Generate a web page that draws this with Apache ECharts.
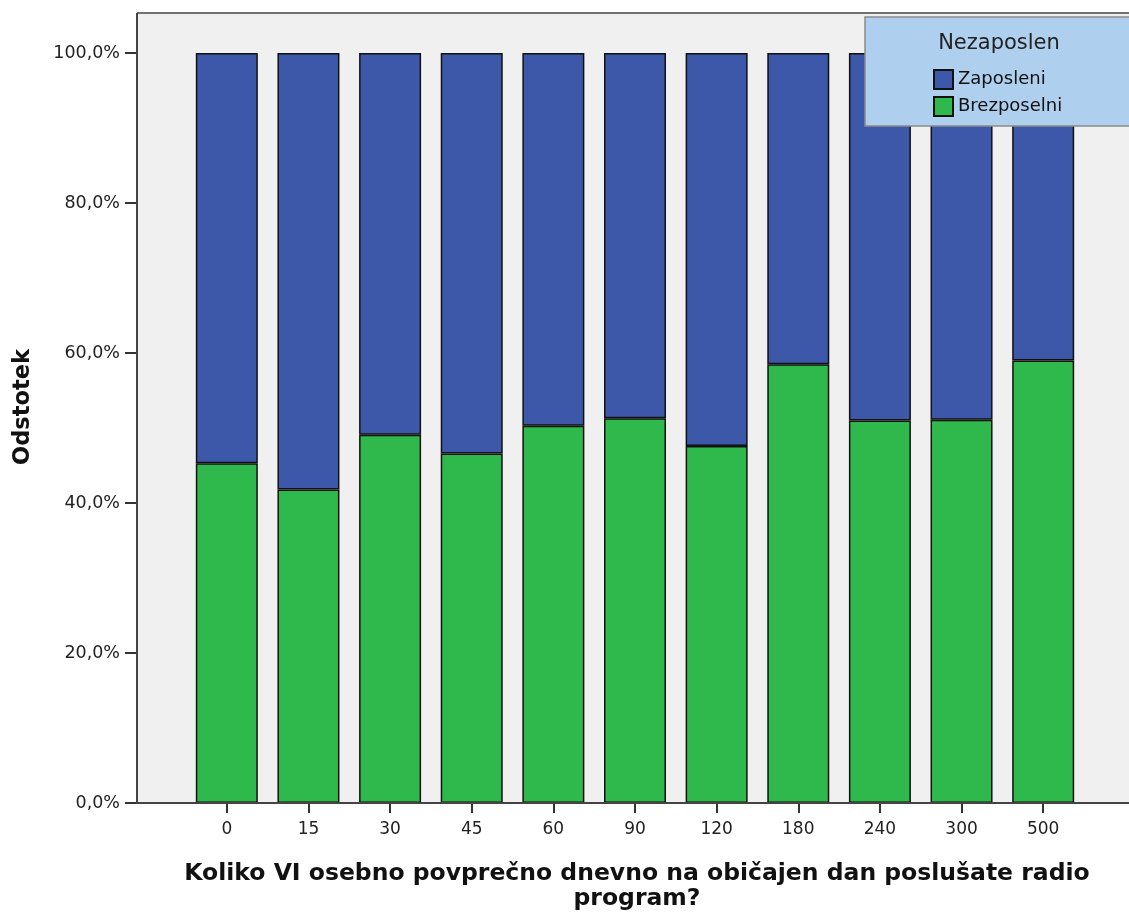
<!DOCTYPE html>
<html>
<head>
<meta charset="utf-8">
<script src="https://cdn.jsdelivr.net/npm/echarts@6/dist/echarts.min.js"></script>
<style>html,body{margin:0;padding:0;background:#fff}#c{width:1129px;height:916px}</style>
</head>
<body>
<div id="c"></div>
<script>
const categories = ['0','15','30','45','60','90','120','180','240','300','500'];
const brezposelni = [45.3, 41.8, 49.1, 46.6, 50.3, 51.3, 47.6, 58.5, 51.0, 51.1, 59.0];
const zaposleni = [54.7, 58.2, 50.9, 53.4, 49.7, 48.7, 52.4, 41.5, 49.0, 48.9, 41.0];
const yTicks = [0, 20, 40, 60, 80, 100];
const legendTitle = 'Nezaposlen';
const yTitle = 'Odstotek';
const xTitle = 'Koliko VI osebno povprečno dnevno na običajen dan poslušate radio\nprogram?';

const chart = echarts.init(document.getElementById('c'));
const font = 'DejaVu Sans';
chart.setOption({
  animation: false,
  grid: {left: 186, right: 45, top: 53, bottom: 113},
  xAxis: {
    type: 'category', data: categories,
    axisLine: {show: false},
    axisTick: {show: true, alignWithLabel: true, length: 10, lineStyle: {color: '#333', width: 2}},
    axisLabel: {margin: 18, fontFamily: font, fontSize: 17, color: '#222'}
  },
  yAxis: {
    type: 'value', min: yTicks[0], max: yTicks[yTicks.length - 1], interval: 20,
    offset: 49,
    axisLine: {show: false},
    splitLine: {show: false},
    axisTick: {show: true, length: 12, lineStyle: {color: '#333', width: 2}},
    axisLabel: {margin: 17, fontFamily: font, fontSize: 17.5, color: '#222',
      formatter: v => v.toFixed(1).replace('.', ',') + '%'}
  },
  legend: {
    data: ['Zaposleni', 'Brezposelni'],
    orient: 'vertical', left: 933, top: 69, padding: 0,
    itemWidth: 19, itemHeight: 19, itemGap: 6,
    icon: 'rect', z: 200,
    textStyle: {fontFamily: font, fontSize: 18, color: '#111'}
  },
  graphic: [
    {type: 'rect', z: -10, shape: {x: 137, y: 13, width: 1000, height: 790}, style: {fill: '#f0f0f0'}},
    {type: 'line', z: 50, shape: {x1: 137, y1: 13, x2: 1129, y2: 13}, style: {stroke: '#707070', lineWidth: 2}},
    {type: 'line', z: 50, shape: {x1: 137, y1: 13, x2: 137, y2: 804}, style: {stroke: '#444', lineWidth: 2}},
    {type: 'line', z: 50, shape: {x1: 137, y1: 803, x2: 1129, y2: 803}, style: {stroke: '#444', lineWidth: 2}},
    {type: 'rect', z: 100, shape: {x: 865, y: 17, width: 300, height: 109}, style: {fill: '#aed0ee', stroke: '#8a8a8a', lineWidth: 1.5}},
    {type: 'text', z: 101, x: 999, y: 44, style: {text: legendTitle, fontFamily: font, fontSize: 21, fill: '#222', textAlign: 'center', textVerticalAlign: 'middle'}},
    {type: 'text', z: 101, x: 23, y: 407, rotation: Math.PI / 2, style: {text: yTitle, fontFamily: font, fontWeight: 'bold', fontSize: 22.5, fill: '#111', textAlign: 'center', textVerticalAlign: 'middle'}},
    {type: 'text', z: 101, x: 637, y: 886, style: {text: xTitle, fontFamily: font, fontWeight: 'bold', fontSize: 23.5, lineHeight: 25, fill: '#111', textAlign: 'center', textVerticalAlign: 'middle'}}
  ],
  series: [
    {name: 'Brezposelni', type: 'bar', stack: 's', data: brezposelni, barWidth: 62,
      itemStyle: {color: '#2fb84b', borderColor: '#111', borderWidth: 1.5}},
    {name: 'Zaposleni', type: 'bar', stack: 's', data: zaposleni, barWidth: 62,
      itemStyle: {color: '#3d58a9', borderColor: '#111', borderWidth: 1.5}}
  ]
});
</script>
</body>
</html>
